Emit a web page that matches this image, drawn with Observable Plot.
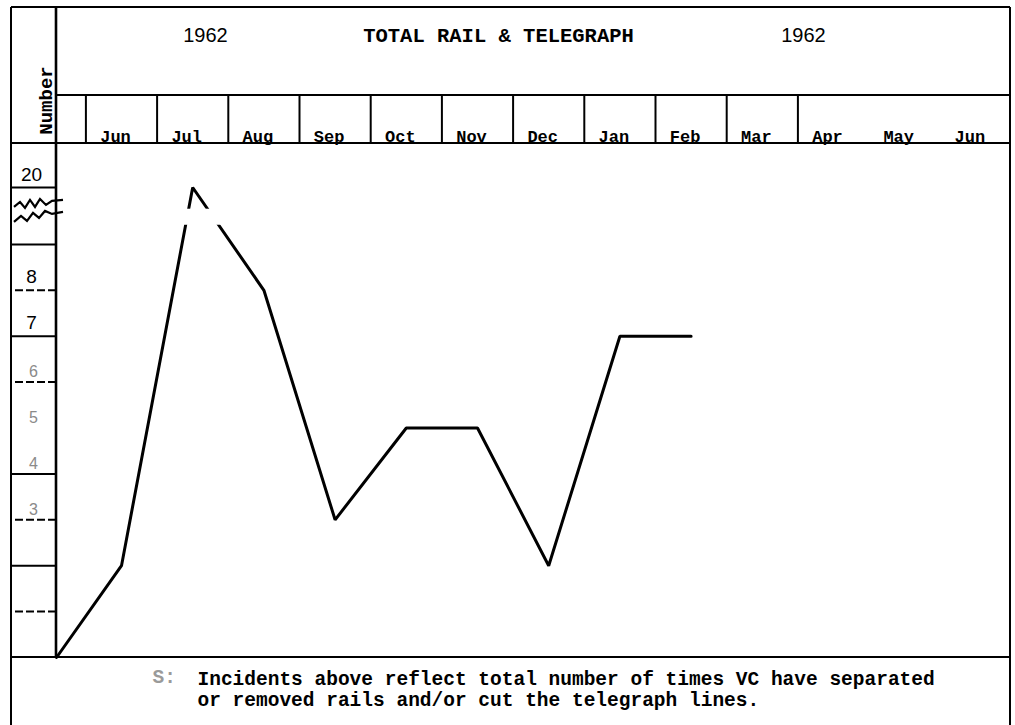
<!DOCTYPE html>
<html>
<head>
<meta charset="utf-8">
<script src="https://cdn.jsdelivr.net/npm/d3@7"></script>
<script src="https://cdn.jsdelivr.net/npm/@observablehq/plot@0.6"></script>
<style>
  html, body { margin: 0; padding: 0; background: #fff; }
</style>
</head>
<body>
<div id="chart"></div>
<script>
// ---------------- data ----------------
const monthLabels = ["Jun", "Jul", "Aug", "Sep", "Oct", "Nov", "Dec", "Jan", "Feb", "Mar", "Apr", "May", "Jun"];
const incidents = [2, 20, 8, 3, 5, 5, 2, 7, 7];           // Jun 1962 .. Feb
const originValue = 0;                                       // line starts at the axis origin
const solidTickValues = [2, 4, 7, 9, 20];
const dashedTickValues = [1, 3, 6, 8];
const darkTickLabels = [20, 8, 7];
const faintTickLabels = [6, 5, 4, 3];
const breakValues = [0, 9, 20];                              // axis is broken between 9 and 20
const breakPositions = [0, 9, 10.24];                        // rows of the ruled left column
const breakGap = [12.7, 15.8];                               // where the drawn line is interrupted
const yearLeft = "1962";
const yearRight = "1962";
const titleText = "TOTAL RAIL & TELEGRAPH";
const yTitle = "Number";
const notePrefix = "S:";
const noteLines = [
  "Incidents above reflect total number of times VC have separated",
  "or removed rails and/or cut the telegraph lines."
];

// ---------------- layout ----------------
const W = 1015, H = 725;
const mL = 56, mR = 5, mT = 143, mB = 68;
const colW = 71.2, firstCenter = 121;
const xDomain = [(mL - firstCenter) / colW, (W - mR - firstCenter) / colW];
const unit = 45.9;
const yTop = (H - mB - mT) / unit;

// broken axis: values -> row positions
const brk = d3.scaleLinear().domain(breakValues).range(breakPositions);

const series = [{i: xDomain[0], v: originValue}, ...incidents.map((v, i) => ({i, v}))];
const gapRect = [{x1: 0, x2: 2, y1: breakGap[0], y2: breakGap[1]}];

const mono = "Liberation Mono, DejaVu Sans Mono, monospace";
const sans = "Liberation Sans, DejaVu Sans, sans-serif";

function decorations(index, scales, values, dims) {
  const g = d3.create("svg:g").attr("fill", "none").attr("stroke", "black");
  const L = 11, R = dims.width - dims.marginRight, T = 7, B = dims.height;
  const ax = dims.marginLeft, rowTop = 95, fTop = dims.marginTop, fBot = dims.height - dims.marginBottom;
  const line = (x1, y1, x2, y2, w = 2) =>
    g.append("line").attr("x1", x1).attr("y1", y1).attr("x2", x2).attr("y2", y2).attr("stroke-width", w);
  line(L, T, R, T);
  line(L, T, L, B);
  line(R, T, R, B);
  line(ax, T, ax, fBot, 2.6);
  line(ax, rowTop, R, rowTop);
  line(L, fTop, R, fTop, 2.2);
  line(L, fBot, R, fBot, 2.2);
  // axis-break zigzag
  const yc = scales.y(brk(14.6));
  const zz1 = [[14,-8],[20,-13],[25,-7],[30,-15],[35,-8],[40,-16],[46,-10],[52,-14],[63,-15]];
  const zz2 = [[14,7],[21,1],[27,6],[33,-2],[39,3],[45,-4],[52,-1],[63,-3]];
  const path = d3.line().x(d => d[0]).y(d => yc + d[1]);
  g.append("path").attr("d", path(zz1)).attr("stroke-width", 2.2);
  g.append("path").attr("d", path(zz2)).attr("stroke-width", 2.2);
  return g.node();
}

const chart = Plot.plot({
  width: W,
  height: H,
  marginLeft: mL,
  marginRight: mR,
  marginTop: mT,
  marginBottom: mB,
  style: {background: "#fff", color: "#000", fontFamily: sans, fontSize: "16px"},
  x: {domain: xDomain},
  y: {domain: [0, yTop]},
  marks: [
    decorations,
    // left column grid lines
    Plot.axisY(solidTickValues.map(brk), {anchor: "left", tickSize: mL - 11, tickFormat: () => "", strokeWidth: 2}),
    Plot.axisY(dashedTickValues.map(brk), {anchor: "left", tickSize: mL - 11, tickFormat: () => "", strokeWidth: 2, strokeDasharray: "8 3"}),
    // tick labels sitting above their lines
    Plot.axisY(darkTickLabels.map(brk), {anchor: "left", tickSize: 0, tickPadding: mL - 31, textAnchor: "middle",
      dy: -13, fontSize: 19, fontFamily: sans, tickFormat: p => String(Math.round(brk.invert(p)))}),
    Plot.axisY(faintTickLabels.map(brk), {anchor: "left", tickSize: 0, tickPadding: mL - 33, textAnchor: "middle",
      dy: -10, fontSize: 16, fontFamily: sans, fill: "#8a8a8a", tickFormat: p => String(Math.round(brk.invert(p)))}),
    // month row dividers and labels
    Plot.axisX(d3.range(-0.5, 10, 1), {anchor: "top", tickSize: mT - 95, tickFormat: () => "", strokeWidth: 2}),
    Plot.axisX(d3.range(monthLabels.length), {anchor: "top", tickSize: 0, tickPadding: 2, dx: -6,
      tickFormat: i => monthLabels[i], fontFamily: mono, fontWeight: "bold", fontSize: 17}),
    // data line
    Plot.line(series, {x: "i", y: d => brk(d.v), stroke: "black", strokeWidth: 3, strokeLinejoin: "miter"}),
    Plot.rect(gapRect, {x1: "x1", x2: "x2", y1: d => brk(d.y1), y2: d => brk(d.y2), fill: "white"}),
    // header texts
    Plot.text([yearLeft], {frameAnchor: "top-left", dx: 205 - mL, dy: 35 - mT, textAnchor: "middle",
      lineAnchor: "middle", fontFamily: sans, fontSize: 20}),
    Plot.text([titleText], {frameAnchor: "top-left", dx: 498 - mL, dy: 35 - mT, textAnchor: "middle",
      lineAnchor: "middle", fontFamily: mono, fontWeight: "bold", fontSize: 20.5}),
    Plot.text([yearRight], {frameAnchor: "top-left", dx: 803 - mL, dy: 35 - mT, textAnchor: "middle",
      lineAnchor: "middle", fontFamily: sans, fontSize: 20}),
    Plot.text([yTitle], {frameAnchor: "top-left", dx: 45 - mL, dy: 100 - mT, rotate: -90, textAnchor: "middle",
      lineAnchor: "middle", fontFamily: mono, fontWeight: "bold", fontSize: 19}),
    // footnote
    Plot.text([notePrefix], {frameAnchor: "bottom-left", dx: 152 - mL, dy: 12, textAnchor: "start",
      lineAnchor: "top", fontFamily: mono, fontWeight: "bold", fontSize: 19.5, fill: "#9a9a9a"}),
    Plot.text([noteLines.join("\n")], {frameAnchor: "bottom-left", dx: 197 - mL, dy: 12, textAnchor: "start",
      lineAnchor: "top", lineHeight: 1.1, fontFamily: mono, fontWeight: "bold", fontSize: 19.5})
  ]
});
document.getElementById("chart").appendChild(chart);
</script>
</body>
</html>
